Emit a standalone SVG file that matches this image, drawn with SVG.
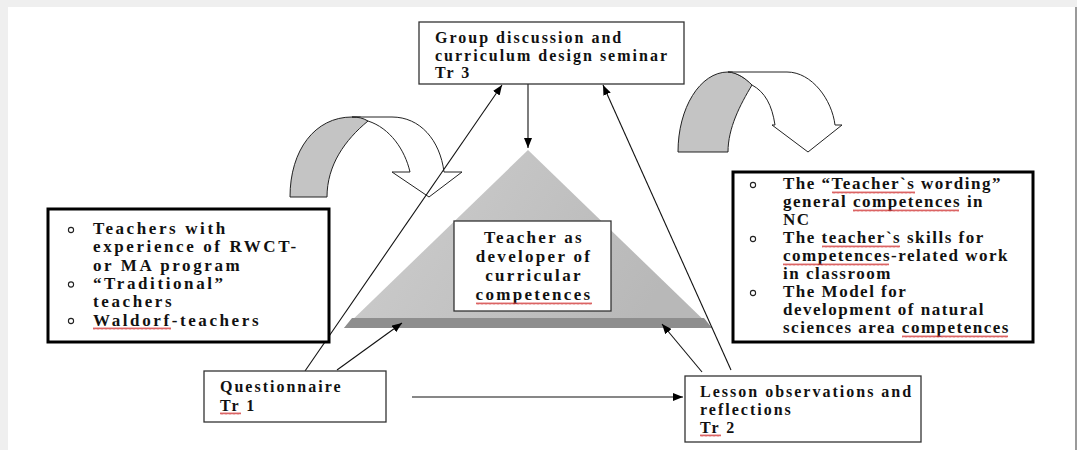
<svg xmlns="http://www.w3.org/2000/svg" width="1077" height="450" viewBox="0 0 1077 450">
<defs>
<style>
.t{font-family:"Liberation Serif","Times New Roman",serif;font-weight:bold;fill:#111}
.top{font-size:16px;letter-spacing:2px}
.lst{font-size:17px;letter-spacing:2.6px}
.rst{font-size:17px;letter-spacing:1.5px}
.ctr{font-size:17px;letter-spacing:2.3px;text-anchor:middle}
.sm{font-size:16px;letter-spacing:2px}
.box{fill:#fff;stroke:#333;stroke-width:1.3}
.thick{fill:#fff;stroke:#000;stroke-width:3}
.ln{fill:none;stroke:#111;stroke-width:1.1}
.bul{fill:none;stroke:#222;stroke-width:1.1}
.sq{fill:url(#sq)}
.cg{fill:#c4c4c4;stroke:#222;stroke-width:1}
.cw{fill:#fff;stroke:#222;stroke-width:1}
</style>
<marker id="ah" viewBox="0 0 10 8" refX="10" refY="4" markerWidth="10" markerHeight="8" markerUnits="userSpaceOnUse" orient="auto">
<path d="M0,0 L10,4 L0,8 z" fill="#000"/>
</marker>
<pattern id="sq" width="4" height="3" patternUnits="userSpaceOnUse">
<path d="M0,2.5 L1,0.5 L2,2.5 M2,2.5 L3,0.5 L4,2.5" fill="none" stroke="#d23c3c" stroke-width="0.8"/>
</pattern>
<linearGradient id="tri" x1="0" y1="0" x2="1" y2="0.3">
<stop offset="0" stop-color="#cfcfcf"/>
<stop offset="1" stop-color="#b8b8b8"/>
</linearGradient>
</defs>

<rect x="0" y="0" width="1077" height="450" fill="#efefef"/>
<rect x="8" y="7" width="1067" height="443" fill="#fff"/>
<line x1="1076" y1="7" x2="1076" y2="450" stroke="#9a9a9a" stroke-width="2"/>

<g id="curved-arrow-left">
<path class="cg" d="M290,197 C290,150 315,117 352,117 L360,117 C363,118 366,119 368,121 C345,140 327,165 327,197 Z"/>
<path class="cw" d="M352,117 L392,117 C420,117 440,140 444,172 L462,172 L429,197 L392,172 L410,172 C405,150 390,128 368,121 C363,118 358,117 352,117 Z"/>
</g>
<g id="curved-arrow-right">
<path class="cg" d="M678,152 C678,108 700,72 728,72 L732,72 C740,75 748,80 752,85 C740,105 728,128 728,152 Z"/>
<path class="cw" d="M728,72 L787,72 C812,72 832,100 835,125 L842,125 L808,152 L772,125 L775,125 C772,105 765,92 752,85 C745,78 738,73 728,72 Z"/>
</g>

<g id="triangle">
<polygon points="528,150 344,328 712,328" fill="url(#tri)"/>
<polygon points="352,318 704,318 712,328 344,328" fill="#8e8e8e"/>
</g>

<g id="connectors">
<line class="ln" x1="528" y1="84" x2="528" y2="148" marker-end="url(#ah)"/>
<line class="ln" x1="305" y1="371" x2="502" y2="85" marker-end="url(#ah)"/>
<line class="ln" x1="731" y1="370" x2="603" y2="85" marker-end="url(#ah)"/>
<line class="ln" x1="337" y1="370" x2="402" y2="323" marker-end="url(#ah)"/>
<line class="ln" x1="702" y1="372" x2="662" y2="324" marker-end="url(#ah)"/>
<line class="ln" x1="412" y1="397" x2="683" y2="397" marker-end="url(#ah)"/>
</g>

<g id="node-tr3">
<rect class="box" x="419" y="22" width="265" height="62"/>
<text class="t top" x="435" y="43">Group discussion and</text>
<text class="t top" x="435" y="61">curriculum design seminar</text>
<text class="t top" x="435" y="78">Tr 3</text>
</g>

<g id="node-center">
<rect class="box" x="454" y="221" width="157" height="90"/>
<text class="t ctr" x="534" y="243">Teacher as</text>
<text class="t ctr" x="534" y="262">developer of</text>
<text class="t ctr" x="534" y="281">curricular</text>
<text class="t ctr" x="534" y="300">competences</text>
<rect class="sq" x="476" y="0" width="116" height="3" transform="translate(0,302)"/>
</g>

<g id="node-teachers">
<rect class="thick" x="48" y="209" width="281" height="133"/>
<circle class="bul" cx="71" cy="230" r="2.6"/>
<circle class="bul" cx="71" cy="284.5" r="2.6"/>
<circle class="bul" cx="71" cy="321" r="2.6"/>
<text class="t lst" x="93" y="234">Teachers with</text>
<text class="t lst" x="93" y="252.3">experience of RWCT-</text>
<text class="t lst" x="93" y="270.6">or MA program</text>
<text class="t lst" x="93" y="288.9">“Traditional”</text>
<text class="t lst" x="93" y="307.2">teachers</text>
<text class="t lst" x="93" y="325.5">Waldorf-teachers</text>
<rect class="sq" x="93" y="0" width="78" height="3" transform="translate(0,327)"/>
</g>

<g id="node-outcomes">
<rect class="thick" x="733" y="172" width="300" height="170"/>
<circle class="bul" cx="753" cy="185" r="2.6"/>
<circle class="bul" cx="753" cy="239" r="2.6"/>
<circle class="bul" cx="753" cy="293" r="2.6"/>
<text class="t rst" x="783" y="189">The “Teacher`s wording”</text>
<text class="t rst" x="783" y="207">general competences in</text>
<text class="t rst" x="783" y="225">NC</text>
<text class="t rst" x="783" y="243">The teacher`s skills for</text>
<text class="t rst" x="783" y="261">competences-related work</text>
<text class="t rst" x="783" y="279">in classroom</text>
<text class="t rst" x="783" y="297">The Model for</text>
<text class="t rst" x="783" y="315">development of natural</text>
<text class="t rst" x="783" y="333">sciences area competences</text>
<rect class="sq" x="832" y="0" width="83" height="3" transform="translate(0,191)"/>
<rect class="sq" x="853" y="0" width="106" height="3" transform="translate(0,209)"/>
<rect class="sq" x="822" y="0" width="78" height="3" transform="translate(0,245)"/>
<rect class="sq" x="783" y="0" width="106" height="3" transform="translate(0,263)"/>
<rect class="sq" x="902" y="0" width="106" height="3" transform="translate(0,335)"/>
</g>

<g id="node-tr1">
<rect class="box" x="204" y="371" width="182" height="51"/>
<text class="t sm" x="220" y="392">Questionnaire</text>
<text class="t sm" x="220" y="411">Tr 1</text>
<rect class="sq" x="220" y="0" width="21" height="3" transform="translate(0,412)"/>
</g>

<g id="node-tr2">
<rect class="box" x="685" y="376" width="236" height="66"/>
<text class="t sm" x="700" y="397">Lesson observations and</text>
<text class="t sm" x="700" y="415">reflections</text>
<text class="t sm" x="700" y="433">Tr 2</text>
<rect class="sq" x="700" y="0" width="21" height="3" transform="translate(0,434)"/>
</g>
</svg>
